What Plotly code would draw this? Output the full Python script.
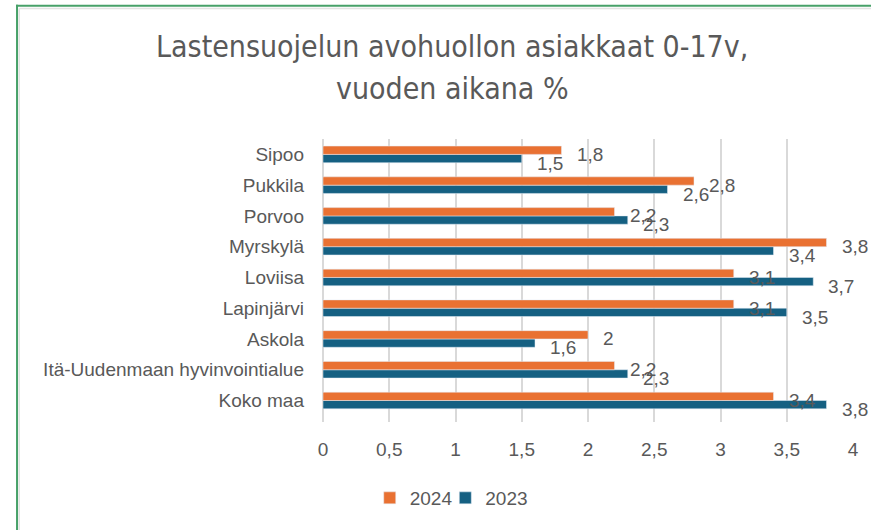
import plotly.graph_objects as go

# Data (top-to-bottom order as shown in the chart)
categories = ["Sipoo", "Pukkila", "Porvoo", "Myrskylä", "Loviisa", "Lapinjärvi",
              "Askola", "Itä-Uudenmaan hyvinvointialue", "Koko maa"]
values_2024 = [1.8, 2.8, 2.2, 3.8, 3.1, 3.1, 2.0, 2.2, 3.4]
values_2023 = [1.5, 2.6, 2.3, 3.4, 3.7, 3.5, 1.6, 2.3, 3.8]
x_ticks = [0, 0.5, 1, 1.5, 2, 2.5, 3, 3.5, 4]

title_lines = ["Lastensuojelun avohuollon asiakkaat 0-17v,", "vuoden aikana %"]

ORANGE = "#E97132"
BLUE = "#156082"
TXT = "#595959"
FONT = "Liberation Sans, Arial"

W, H = 871, 530
L, R, T, B = 323, 15, 139, 108

fig = go.Figure()
fig.add_trace(go.Bar(y=categories, x=values_2023, orientation="h", name="2023",
                     marker=dict(color=BLUE), hoverinfo="x+y", legend="legend2"))
fig.add_trace(go.Bar(y=categories, x=values_2024, orientation="h", name="2024",
                     marker=dict(color=ORANGE), hoverinfo="x+y", legend="legend"))

def fmt(v):
    return ("%g" % v).replace(".", ",")

pw = W - L - R
ph = H - T - B
def px(xp):  # pixel x -> paper
    return (xp - L) / pw
def py(yp):  # pixel y -> paper
    return (H - B - yp) / ph

annotations = []
for c, v in zip(categories, values_2024):
    annotations.append(dict(x=v, y=c, xref="x", yref="y", text=fmt(v), showarrow=False,
                            xanchor="left", yanchor="middle", xshift=13, yshift=0,
                            font=dict(family=FONT, size=19, color=TXT)))
for c, v in zip(categories, values_2023):
    annotations.append(dict(x=v, y=c, xref="x", yref="y", text=fmt(v), showarrow=False,
                            xanchor="left", yanchor="middle", xshift=13, yshift=-9,
                            font=dict(family=FONT, size=19, color=TXT)))

title_font = dict(family="Liberation Sans Narrow, DejaVu Sans Condensed, Liberation Sans",
                  size=30, color=TXT)
for line, yc in zip(title_lines, [46, 88]):
    annotations.append(dict(x=px(453), y=py(yc), xref="paper", yref="paper", text=line,
                            showarrow=False, xanchor="center", yanchor="middle",
                            font=title_font))

shapes = [
    # light grey chart border
    dict(type="line", xref="paper", yref="paper", x0=px(17.5), x1=px(880), y0=py(8.5), y1=py(8.5),
         line=dict(color="#E3E3E3", width=1.5)),
    dict(type="line", xref="paper", yref="paper", x0=px(17.5), x1=px(17.5), y0=py(8.5), y1=py(540),
         line=dict(color="#E3E3E3", width=1.5)),
    # green selection border
    dict(type="line", xref="paper", yref="paper", x0=px(14.3), x1=px(880), y0=py(5.7), y1=py(5.7),
         line=dict(color="#47A169", width=2)),
    dict(type="line", xref="paper", yref="paper", x0=px(15.3), x1=px(15.3), y0=py(4.7), y1=py(540),
         line=dict(color="#47A169", width=2)),
]

leg_common = dict(orientation="h", xanchor="left", yanchor="middle", y=py(498),
                  font=dict(family=FONT, size=19, color=TXT), bgcolor="rgba(0,0,0,0)",
                  borderwidth=0)

fig.update_layout(
    width=W, height=H,
    margin=dict(l=L, r=R, t=T, b=B, pad=0),
    paper_bgcolor="white", plot_bgcolor="white",
    separators=", ",
    barmode="group", bargap=0.46, bargroupgap=0,
    xaxis=dict(range=[0, 4], tickvals=x_ticks, showgrid=True, gridcolor="#D9D9D9", gridwidth=1.5,
               zeroline=True, zerolinecolor="#D9D9D9", zerolinewidth=1.5, showline=False,
               ticks="", ticklabelstandoff=14,
               tickfont=dict(family=FONT, size=19, color=TXT), fixedrange=True),
    yaxis=dict(categoryorder="array", categoryarray=categories[::-1], showgrid=False,
               ticks="", ticklabelstandoff=18, showline=False, zeroline=False,
               tickfont=dict(family=FONT, size=19, color=TXT), fixedrange=True),
    legend=dict(x=px(370), **leg_common),
    legend2=dict(x=px(446), **leg_common),
    annotations=annotations,
    shapes=shapes,
    showlegend=True,
)

post = ("document.body.style.margin='0';document.body.style.padding='0';"
        "document.body.style.overflow='hidden';"
        "document.documentElement.style.overflow='hidden';")
fig.write_html("out.html", post_script=post, config={"displayModeBar": False})
